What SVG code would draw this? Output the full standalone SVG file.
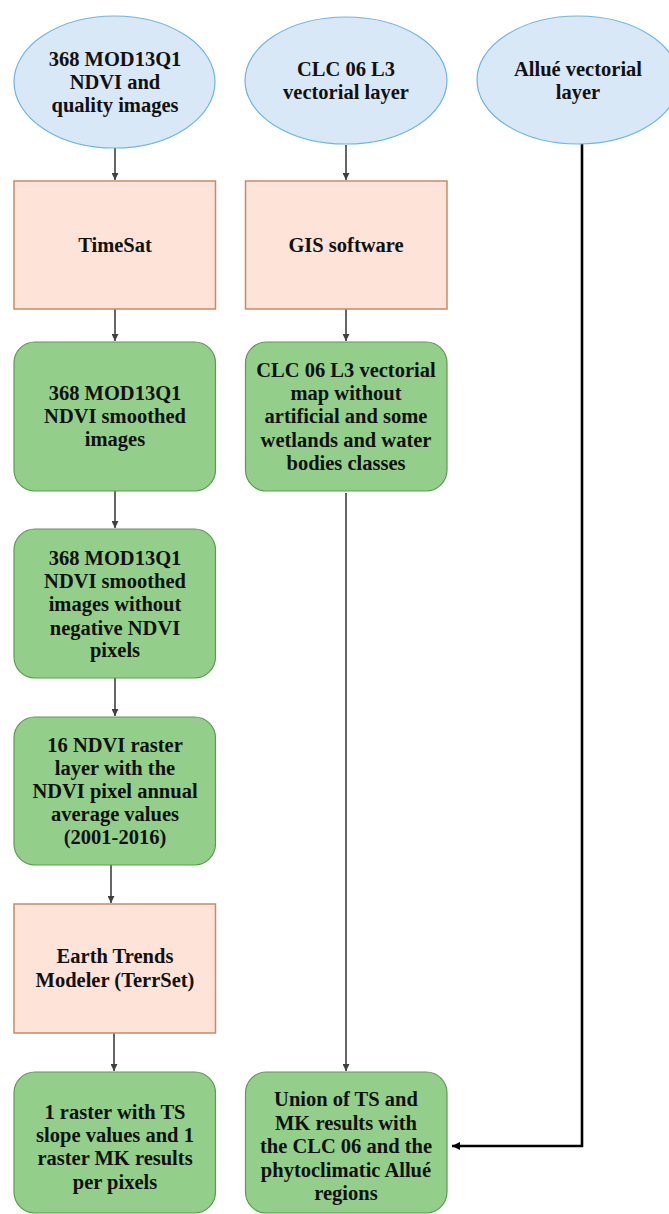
<svg xmlns="http://www.w3.org/2000/svg" width="669" height="1214" viewBox="0 0 669 1214">
<defs>
<style>
.ell{fill:#d9e8f6;stroke:#6cb6e6;stroke-width:1.2}
.proc{fill:#fde3d8;stroke:#c98a66;stroke-width:1.5}
.res{fill:#93cf8a;stroke:#5c9a52;stroke-width:1.2}
text{font-family:"Liberation Serif","DejaVu Serif",serif;font-weight:bold;font-size:20.5px;fill:#111;text-anchor:middle}
.c{fill:none;stroke:#404040;stroke-width:1.6}
.k{fill:none;stroke:#000;stroke-width:2.6}
</style>
<marker id="ah" viewBox="0 0 10 10" refX="10" refY="5" markerWidth="7" markerHeight="7" markerUnits="userSpaceOnUse" orient="auto">
<path d="M0,0 L10,5 L0,10 z" fill="#404040"/>
</marker>
<marker id="ahk" viewBox="0 0 10 10" refX="10" refY="5" markerWidth="8" markerHeight="8" markerUnits="userSpaceOnUse" orient="auto">
<path d="M0,0 L10,5 L0,10 z" fill="#000"/>
</marker>
</defs>

<g id="connectors">
<line class="c" x1="115" y1="148" x2="115" y2="180" marker-end="url(#ah)"/>
<line class="c" x1="346" y1="145" x2="346" y2="180" marker-end="url(#ah)"/>
<line class="c" x1="115" y1="309" x2="115" y2="341" marker-end="url(#ah)"/>
<line class="c" x1="346" y1="309" x2="346" y2="341" marker-end="url(#ah)"/>
<line class="c" x1="115" y1="491" x2="115" y2="528" marker-end="url(#ah)"/>
<line class="c" x1="115" y1="678" x2="115" y2="716" marker-end="url(#ah)"/>
<line class="c" x1="111" y1="865" x2="111" y2="903" marker-end="url(#ah)"/>
<line class="c" x1="114" y1="1033" x2="114" y2="1071" marker-end="url(#ah)"/>
<line class="c" x1="346" y1="493" x2="346" y2="1071" marker-end="url(#ah)"/>
<polyline class="k" points="582,144 582,1146 452,1146" marker-end="url(#ahk)"/>
</g>

<g id="n_mod13q1">
<ellipse class="ell" cx="114.5" cy="82" rx="100.5" ry="66"/>
<text x="115" y="66">368 MOD13Q1</text>
<text x="115" y="89">NDVI and</text>
<text x="115" y="112">quality images</text>
</g>
<g id="n_clc">
<ellipse class="ell" cx="346" cy="80.5" rx="101" ry="63.5"/>
<text x="346" y="76">CLC 06 L3</text>
<text x="346" y="99">vectorial layer</text>
</g>
<g id="n_allue">
<ellipse class="ell" cx="578" cy="80" rx="101" ry="64"/>
<text x="578" y="76">Allué vectorial</text>
<text x="578" y="99">layer</text>
</g>

<g id="n_timesat">
<rect class="proc" x="14" y="181" width="201.5" height="128"/>
<text x="115" y="252">TimeSat</text>
</g>
<g id="n_gis">
<rect class="proc" x="245.5" y="181" width="201.5" height="128"/>
<text x="346" y="252">GIS software</text>
</g>

<g id="n_smoothed">
<rect class="res" x="14" y="342" width="201.5" height="149" rx="21"/>
<text x="115" y="400">368 MOD13Q1</text>
<text x="115" y="423">NDVI smoothed</text>
<text x="115" y="446">images</text>
</g>
<g id="n_clcmap">
<rect class="res" x="245.5" y="342" width="201.5" height="149" rx="21"/>
<text x="346" y="377">CLC 06 L3 vectorial</text>
<text x="346" y="400">map without</text>
<text x="346" y="423">artificial and some</text>
<text x="346" y="446.5">wetlands and water</text>
<text x="346" y="469.5">bodies classes</text>
</g>

<g id="n_noneg">
<rect class="res" x="14" y="529" width="201.5" height="149" rx="21"/>
<text x="115" y="565">368 MOD13Q1</text>
<text x="115" y="588">NDVI smoothed</text>
<text x="115" y="611">images without</text>
<text x="115" y="634.5">negative NDVI</text>
<text x="115" y="657">pixels</text>
</g>

<g id="n_annual">
<rect class="res" x="14" y="717" width="201.5" height="148" rx="21"/>
<text x="115" y="752">16 NDVI raster</text>
<text x="115" y="775">layer with the</text>
<text x="115" y="798">NDVI pixel annual</text>
<text x="115" y="821">average values</text>
<text x="115" y="843.5">(2001-2016)</text>
</g>

<g id="n_etm">
<rect class="proc" x="14" y="904" width="201.5" height="129"/>
<text x="115" y="963">Earth Trends</text>
<text x="115" y="987">Modeler (TerrSet)</text>
</g>

<g id="n_tsmk">
<rect class="res" x="14" y="1072" width="201.5" height="141" rx="21"/>
<text x="115" y="1118.5">1 raster with TS</text>
<text x="115" y="1142">slope values and 1</text>
<text x="115" y="1165">raster MK results</text>
<text x="115" y="1188.5">per pixels</text>
</g>

<g id="n_union">
<rect class="res" x="245.5" y="1072" width="201.5" height="141" rx="21"/>
<text x="346" y="1106">Union of TS and</text>
<text x="346" y="1129.5">MK results with</text>
<text x="346" y="1153">the CLC 06 and the</text>
<text x="346" y="1176.5">phytoclimatic Allué</text>
<text x="346" y="1200">regions</text>
</g>
</svg>
